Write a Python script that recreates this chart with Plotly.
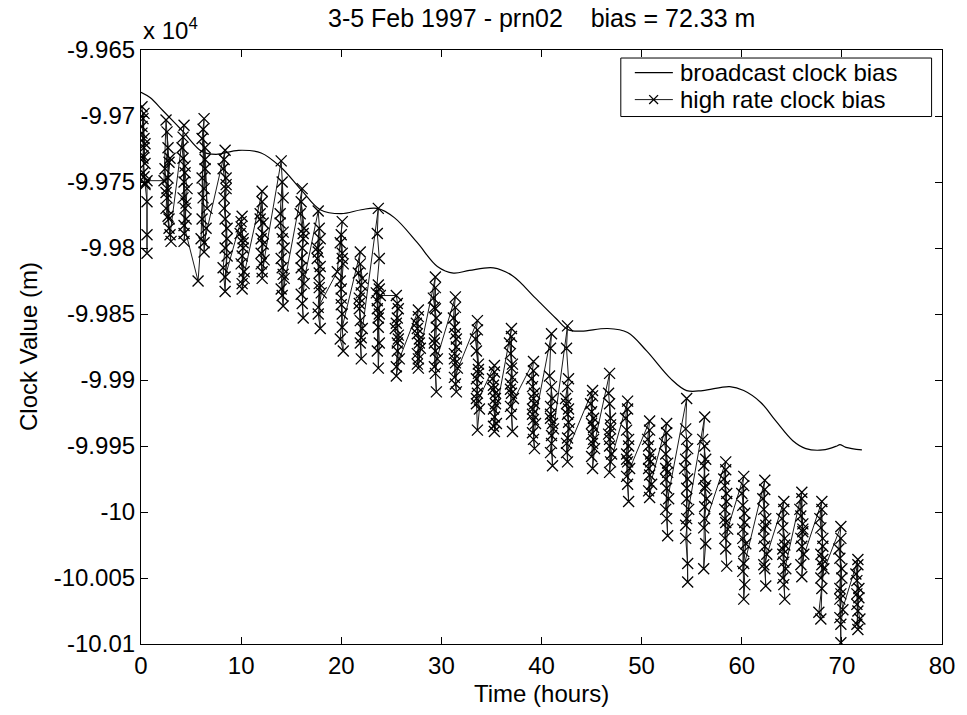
import plotly.graph_objects as go

# Broadcast clock bias (time in hours, value in units of 1e4 m)
bc_time = [0.0, 0.9, 2.2, 4.1, 6.1, 7.5, 9.75, 12.0, 14.0, 16.0, 17.9, 20.0, 22.0, 23.6,
           25.3, 27.6, 29.6, 31.2, 32.8, 35.2, 37.1, 39.4, 41.4, 42.7, 44.0, 46.6, 48.6,
           50.5, 52.9, 54.5, 56.1, 58.8, 60.2, 61.9, 63.4, 65.1, 66.4, 68.1, 69.5, 69.8,
           70.4, 72.0]
bc_value = [-9.9682, -9.9686, -9.9696, -9.9711, -9.9727, -9.9729, -9.9726, -9.9728, -9.9739,
            -9.9756, -9.9771, -9.9774, -9.9771, -9.9770, -9.9777, -9.9796, -9.9814, -9.9819,
            -9.9817, -9.9815, -9.9821, -9.9838, -9.9853, -9.9862, -9.9863, -9.9861, -9.9864,
            -9.9878, -9.9899, -9.9908, -9.9908, -9.9905, -9.9908, -9.9917, -9.9931, -9.9946,
            -9.9952, -9.9953, -9.9950, -9.9949, -9.9951, -9.9953]

# High rate clock bias (time in hours, value in units of 1e4 m), one line per pass
hr_time = [
    0.1, 0.3, 0.2, 0.4, 0.1, 0.3, 0.2, 0.4, 0.2, 0.3, 0.1, 0.4, 0.2, 0.3, 0.4, 0.6, 0.6, 0.6, 0.6,
    2.3, 2.5, 2.7, 2.4, 2.6, 2.8, 3.0, 2.5, 2.7, 2.9, 2.6, 2.8, 2.6, 2.8, 2.5, 2.7, 2.9,
    4.3, 4.1, 4.4, 4.2, 4.5, 4.3, 4.6, 4.2, 4.4, 4.3, 4.2, 4.4, 4.3, 4.5, 4.3,
    5.7, 6.0, 6.3, 6.1, 6.4, 6.2, 6.5, 6.3, 6.1, 6.4, 6.6, 6.2, 6.4, 6.3, 6.1, 6.3,
    8.4, 8.2, 8.5, 8.3, 8.6, 8.4, 8.2, 8.4, 8.6, 8.3, 8.5, 8.3, 8.5, 8.4, 8.6, 8.4,
    10.1, 9.9, 10.2, 10.0, 10.3, 10.1, 10.2, 10.0, 10.0, 10.2, 10.1, 10.3, 10.1,
    12.1, 11.9, 12.2, 12.0, 12.1, 12.3, 12.0, 12.2, 12.1, 11.9, 12.2, 12.0, 12.1,
    14.0, 14.2, 13.9, 14.3, 14.1, 14.0, 14.2, 14.3, 14.1, 13.9, 14.1, 14.2, 14.0, 14.2, 14.1,
    16.1, 15.9, 16.2, 16.0, 16.3, 16.1, 16.2, 16.0, 16.3, 16.0, 16.2, 16.1, 16.2, 16.0,
    17.7, 17.9, 17.6, 17.8, 18.0, 17.7, 17.9, 17.8, 17.6, 17.8, 17.7, 17.9, 17.8, 17.7,
    19.6, 20.1, 19.9, 20.2, 20.0, 20.1, 19.9, 20.2, 20.0, 20.1, 20.0, 20.1, 19.9, 20.0, 20.1,
    21.9, 21.7, 22.0, 21.8, 22.1, 21.9, 22.0, 21.8, 22.1, 21.9, 22.0, 21.8, 21.9, 22.0,
    23.7, 23.6, 23.8, 23.5, 23.7, 23.8, 23.7, 23.6, 23.8, 23.7, 23.6, 23.8, 23.7, 23.6, 23.9,
    25.5, 25.7, 25.4, 25.6, 25.8, 25.5, 25.7, 25.6, 25.6, 25.5, 25.7, 25.6, 25.5,
    27.7, 27.5, 27.8, 27.6, 27.7, 27.9, 27.6, 27.7, 27.6, 27.8, 27.7, 27.6,
    29.4, 29.2, 29.5, 29.3, 29.6, 29.4, 29.5, 29.3, 29.4, 29.4, 29.3, 29.5, 29.4, 29.3,
    31.4, 31.2, 31.5, 31.3, 31.6, 31.4, 31.5, 31.3, 31.4, 31.4, 31.3, 31.5, 31.4, 31.3,
    33.6, 33.4, 33.7, 33.5, 33.6, 33.8, 33.6, 33.5, 33.7, 33.6, 33.5, 33.7, 33.6, 33.5,
    35.3, 35.1, 35.4, 35.2, 35.5, 35.3, 35.4, 35.2, 35.3, 35.2, 35.4, 35.3, 35.2,
    37.0, 36.8, 37.1, 36.9, 37.2, 37.0, 37.1, 36.9, 37.0, 37.0, 36.9, 37.1, 37.0, 36.9,
    39.2, 39.0, 39.3, 39.1, 39.4, 39.2, 39.3, 39.1, 39.2, 39.2, 39.1, 39.3, 39.2, 39.1,
    41.0, 40.9, 40.8, 41.1, 40.9, 41.2, 41.0, 41.1, 40.9, 41.0, 40.9, 41.1, 41.0, 40.9,
    42.6, 42.5, 42.7, 42.4, 42.6, 42.8, 42.5, 42.6, 42.7, 42.6, 42.5, 42.7, 42.6, 42.5,
    45.1, 44.9, 45.2, 45.0, 45.3, 45.1, 45.2, 45.0, 45.1, 45.0, 45.2, 45.1, 45.0,
    46.8, 46.7, 46.9, 46.8, 47.0, 46.8, 46.9, 46.8, 46.9, 46.7, 46.8, 46.9,
    48.6, 48.4, 48.7, 48.5, 48.8, 48.6, 48.7, 48.5, 48.6, 48.5, 48.7, 48.6, 48.5,
    50.8, 50.6, 50.9, 50.7, 51.0, 50.8, 50.7, 50.8, 50.7, 50.9, 50.8, 50.7,
    52.5, 52.3, 52.6, 52.4, 52.7, 52.5, 52.6, 52.4, 52.5, 52.4, 52.6, 52.5, 52.4,
    54.5, 54.4, 54.6, 54.3, 54.5, 54.7, 54.4, 54.6, 54.6, 54.5, 54.5, 54.4, 54.6, 54.5, 54.4,
    56.3, 56.1, 56.4, 56.2, 56.5, 56.3, 56.4, 56.2, 56.3, 56.3, 56.2, 56.4, 56.3, 56.2,
    58.4, 58.2, 58.5, 58.3, 58.6, 58.4, 58.5, 58.3, 58.4, 58.3, 58.5, 58.4, 58.3,
    60.2, 60.0, 60.3, 60.1, 60.4, 60.2, 60.3, 60.2, 60.1, 60.2, 60.1, 60.3, 60.2, 60.1,
    62.3, 62.1, 62.4, 62.2, 62.5, 62.3, 62.4, 62.2, 62.3, 62.2, 62.4, 62.3, 62.2,
    64.2, 64.0, 64.3, 64.1, 64.4, 64.2, 64.3, 64.1, 64.2, 64.1, 64.3, 64.2, 64.1,
    66.0, 65.8, 66.1, 65.9, 66.2, 66.0, 66.1, 66.0, 65.9, 66.1, 66.0, 65.9,
    68.0, 67.8, 68.1, 67.9, 68.2, 68.0, 67.7, 67.9, 68.1, 68.0, 67.9, 68.1, 68.0, 67.9,
    69.9, 69.7, 70.0, 69.8, 70.1, 69.9, 69.9, 69.8, 69.9, 69.8, 70.0, 69.9, 69.8,
    71.6, 71.4, 71.7, 71.5, 71.8, 71.6, 71.5, 71.6, 71.5, 71.7, 71.6, 71.5,
]
hr_value = [
    -9.9693, -9.9717, -9.9702, -9.9736, -9.9713, -9.9724, -9.9743, -9.9752, -9.9732, -9.9698, -9.9708, -9.9721, -9.9730, -9.9746, -9.9751, -9.9765, -9.9790, -9.9804, -9.9749,
    -9.9749, -9.9703, -9.9724, -9.9740, -9.9762, -9.9785, -9.9795, -9.9770, -9.9747, -9.9732, -9.9755, -9.9778, -9.9712, -9.9735, -9.9758, -9.9776, -9.9790,
    -9.9707, -9.9724, -9.9743, -9.9762, -9.9778, -9.9795, -9.9755, -9.9732, -9.9770, -9.9789, -9.9716, -9.9738, -9.9750, -9.9766, -9.9783,
    -9.9825, -9.9793, -9.9702, -9.9717, -9.9740, -9.9762, -9.9785, -9.9803, -9.9747, -9.9724, -9.9770, -9.9710, -9.9733, -9.9755, -9.9778, -9.9796,
    -9.9726, -9.9740, -9.9755, -9.9770, -9.9785, -9.9800, -9.9815, -9.9833, -9.9793, -9.9762, -9.9747, -9.9733, -9.9752, -9.9778, -9.9806, -9.9822,
    -9.9776, -9.9789, -9.9800, -9.9812, -9.9823, -9.9831, -9.9796, -9.9784, -9.9780, -9.9793, -9.9806, -9.9818, -9.9827,
    -9.9757, -9.9774, -9.9789, -9.9804, -9.9823, -9.9809, -9.9793, -9.9781, -9.9765, -9.9778, -9.9797, -9.9812, -9.9818,
    -9.9734, -9.9762, -9.9781, -9.9800, -9.9815, -9.9831, -9.9844, -9.9823, -9.9793, -9.9774, -9.9750, -9.9788, -9.9808, -9.9820, -9.9836,
    -9.9755, -9.9774, -9.9793, -9.9808, -9.9827, -9.9842, -9.9853, -9.9815, -9.9785, -9.9765, -9.9789, -9.9800, -9.9820, -9.9835,
    -9.9772, -9.9793, -9.9808, -9.9819, -9.9834, -9.9850, -9.9861, -9.9827, -9.9800, -9.9785, -9.9803, -9.9814, -9.9830, -9.9845,
    -9.9818, -9.9780, -9.9796, -9.9812, -9.9831, -9.9850, -9.9869, -9.9878, -9.9838, -9.9804, -9.9790, -9.9808, -9.9825, -9.9843, -9.9860,
    -9.9803, -9.9819, -9.9834, -9.9846, -9.9861, -9.9872, -9.9884, -9.9838, -9.9823, -9.9812, -9.9828, -9.9842, -9.9855, -9.9868,
    -9.9770, -9.9789, -9.9808, -9.9834, -9.9853, -9.9872, -9.9891, -9.9846, -9.9831, -9.9828, -9.9840, -9.9850, -9.9860, -9.9878, -9.9836,
    -9.9836, -9.9846, -9.9861, -9.9872, -9.9884, -9.9897, -9.9869, -9.9853, -9.9842, -9.9857, -9.9866, -9.9878, -9.9890,
    -9.9847, -9.9857, -9.9869, -9.9880, -9.9891, -9.9876, -9.9861, -9.9852, -9.9865, -9.9872, -9.9884, -9.9888,
    -9.9822, -9.9838, -9.9853, -9.9869, -9.9884, -9.9895, -9.9909, -9.9872, -9.9846, -9.9830, -9.9845, -9.9860, -9.9878, -9.9890,
    -9.9837, -9.9853, -9.9869, -9.9880, -9.9891, -9.9903, -9.9909, -9.9884, -9.9865, -9.9845, -9.9860, -9.9875, -9.9887, -9.9898,
    -9.9855, -9.9869, -9.9888, -9.9899, -9.9910, -9.9922, -9.9938, -9.9914, -9.9895, -9.9862, -9.9878, -9.9892, -9.9905, -9.9918,
    -9.9889, -9.9899, -9.9910, -9.9922, -9.9933, -9.9939, -9.9914, -9.9907, -9.9894, -9.9904, -9.9918, -9.9928, -9.9935,
    -9.9861, -9.9872, -9.9888, -9.9903, -9.9914, -9.9926, -9.9939, -9.9907, -9.9891, -9.9867, -9.9880, -9.9898, -9.9910, -9.9920,
    -9.9886, -9.9899, -9.9910, -9.9922, -9.9933, -9.9945, -9.9952, -9.9926, -9.9914, -9.9893, -9.9905, -9.9918, -9.9930, -9.9940,
    -9.9865, -9.9876, -9.9897, -9.9914, -9.9926, -9.9937, -9.9948, -9.9965, -9.9929, -9.9905, -9.9920, -9.9933, -9.9942, -9.9955,
    -9.9859, -9.9876, -9.9899, -9.9914, -9.9926, -9.9937, -9.9948, -9.9962, -9.9922, -9.9905, -9.9918, -9.9932, -9.9944, -9.9955,
    -9.9908, -9.9918, -9.9929, -9.9941, -9.9952, -9.9967, -9.9945, -9.9933, -9.9912, -9.9924, -9.9936, -9.9948, -9.9958,
    -9.9895, -9.9910, -9.9929, -9.9945, -9.9956, -9.9970, -9.9937, -9.9918, -9.9934, -9.9941, -9.9950, -9.9962,
    -9.9916, -9.9929, -9.9945, -9.9956, -9.9967, -9.9979, -9.9992, -9.9960, -9.9922, -9.9938, -9.9950, -9.9962, -9.9973,
    -9.9931, -9.9945, -9.9956, -9.9967, -9.9979, -9.9989, -9.9960, -9.9938, -9.9950, -9.9962, -9.9972, -9.9984,
    -9.9933, -9.9948, -9.9963, -9.9975, -9.9990, -10.0005, -10.0018, -9.9967, -9.9940, -9.9956, -9.9970, -9.9982, -9.9998,
    -9.9914, -9.9937, -9.9952, -9.9967, -9.9982, -9.9998, -10.0020, -10.0039, -10.0053, -10.0005, -9.9945, -9.9960, -9.9975, -9.9990, -10.0010,
    -9.9928, -9.9945, -9.9960, -9.9975, -9.9990, -10.0005, -10.0024, -10.0043, -9.9982, -9.9950, -9.9965, -9.9980, -9.9996, -10.0012,
    -9.9962, -9.9975, -9.9986, -9.9998, -10.0013, -10.0028, -10.0041, -10.0005, -9.9968, -9.9980, -9.9992, -10.0008, -10.0020,
    -9.9973, -9.9986, -10.0001, -10.0013, -10.0024, -10.0039, -10.0055, -10.0066, -10.0020, -9.9980, -9.9995, -10.0008, -10.0030, -10.0045,
    -9.9976, -9.9990, -10.0005, -10.0020, -10.0032, -10.0043, -10.0056, -10.0013, -9.9983, -9.9998, -10.0010, -10.0026, -10.0040,
    -9.9992, -10.0005, -10.0020, -10.0032, -10.0043, -10.0055, -10.0066, -10.0028, -9.9998, -10.0012, -10.0025, -10.0038, -10.0050,
    -9.9985, -9.9998, -10.0009, -10.0020, -10.0032, -10.0049, -10.0013, -9.9990, -10.0003, -10.0015, -10.0026, -10.0040,
    -9.9992, -10.0005, -10.0020, -10.0032, -10.0043, -10.0058, -10.0076, -10.0081, -10.0036, -9.9998, -10.0012, -10.0026, -10.0040, -10.0050,
    -10.0011, -10.0028, -10.0043, -10.0058, -10.0074, -10.0085, -10.0099, -10.0066, -10.0020, -10.0035, -10.0050, -10.0062, -10.0080,
    -10.0036, -10.0047, -10.0058, -10.0070, -10.0081, -10.0089, -10.0062, -10.0040, -10.0052, -10.0065, -10.0075, -10.0085,
]

x_ticks = [0, 10, 20, 30, 40, 50, 60, 70, 80]
y_ticks = [-9.965, -9.97, -9.975, -9.98, -9.985, -9.99, -9.995, -10.0, -10.005, -10.01]
y_tick_text = ["-9.965", "-9.97", "-9.975", "-9.98", "-9.985", "-9.99", "-9.995", "-10", "-10.005", "-10.01"]
legend_names = ["broadcast clock bias", "high rate clock bias"]

FONT = "Liberation Sans, Arial, sans-serif"

fig = go.Figure()
fig.add_trace(go.Scatter(
    x=bc_time, y=bc_value, mode="lines", name=legend_names[0], showlegend=False,
    line=dict(color="black", width=1.2), line_shape="spline",
))
fig.add_trace(go.Scatter(
    x=hr_time, y=hr_value, mode="lines+markers", name=legend_names[1], showlegend=False,
    line=dict(color="#1a1a1a", width=1),
    marker=dict(symbol="x-thin", size=11, line=dict(color="black", width=1.3)),
))

axis_common = dict(
    showline=True, linecolor="black", linewidth=1.2, mirror="ticks",
    ticks="inside", ticklen=7, tickcolor="black", tickwidth=1,
    showgrid=False, zeroline=False,
    tickfont=dict(family=FONT, size=24, color="black"),
)
fig.update_xaxes(range=[0, 80], tickvals=x_ticks, **axis_common)
fig.update_yaxes(range=[-10.01, -9.965], tickvals=y_ticks, ticktext=y_tick_text, **axis_common)

# Legend box drawn as decoration (MATLAB-style compact legend)
lx0, lx1, ly0, ly1 = 0.599, 0.987, 0.888, 0.9865
row_y = [0.9620, 0.9165]
sx0, sx1, sxc = 0.6165, 0.664, 0.640
mdx, mdy = 0.0055, 0.0075
shapes = [
    dict(type="rect", xref="paper", yref="paper", x0=lx0, x1=lx1, y0=ly0, y1=ly1,
         line=dict(color="black", width=1), fillcolor="white", layer="above"),
    dict(type="line", xref="paper", yref="paper", x0=sx0, x1=sx1, y0=row_y[0], y1=row_y[0],
         line=dict(color="black", width=1.2), layer="above"),
    dict(type="line", xref="paper", yref="paper", x0=sx0, x1=sx1, y0=row_y[1], y1=row_y[1],
         line=dict(color="#1a1a1a", width=1), layer="above"),
    dict(type="line", xref="paper", yref="paper", x0=sxc - mdx, x1=sxc + mdx,
         y0=row_y[1] - mdy, y1=row_y[1] + mdy, line=dict(color="black", width=1.3), layer="above"),
    dict(type="line", xref="paper", yref="paper", x0=sxc - mdx, x1=sxc + mdx,
         y0=row_y[1] + mdy, y1=row_y[1] - mdy, line=dict(color="black", width=1.3), layer="above"),
]

annotations = [
    dict(text="3-5 Feb 1997 - prn02\u00a0\u00a0\u00a0\u00a0bias = 72.33 m",
         xref="paper", yref="paper", x=0.5, y=1, yshift=16,
         xanchor="center", yanchor="bottom", showarrow=False,
         font=dict(family=FONT, size=25)),
    dict(text="x 10<sup>4</sup>", xref="paper", yref="paper", x=0, y=1,
         xanchor="left", yanchor="bottom", yshift=4, showarrow=False,
         font=dict(family=FONT, size=24)),
    dict(text="Time (hours)", xref="paper", yref="paper", x=0.5, y=0,
         xanchor="center", yanchor="top", yshift=-34, showarrow=False,
         font=dict(family=FONT, size=24)),
    dict(text="Clock Value (m)", xref="paper", yref="paper", x=0, y=0.5,
         xanchor="center", yanchor="middle", xshift=-113, textangle=-90,
         showarrow=False, font=dict(family=FONT, size=24)),
]
for name, ry in zip(legend_names, row_y):
    annotations.append(dict(text=name, xref="paper", yref="paper", x=0.670, y=ry,
                            xanchor="left", yanchor="middle", showarrow=False,
                            font=dict(family=FONT, size=24)))

fig.update_layout(
    width=967, height=715,
    margin=dict(l=141, r=16, t=50, b=71),
    paper_bgcolor="white", plot_bgcolor="white",
    font=dict(family=FONT, size=24, color="black"),
    showlegend=False,
    shapes=shapes,
    annotations=annotations,
)

fig.write_html("out.html")
